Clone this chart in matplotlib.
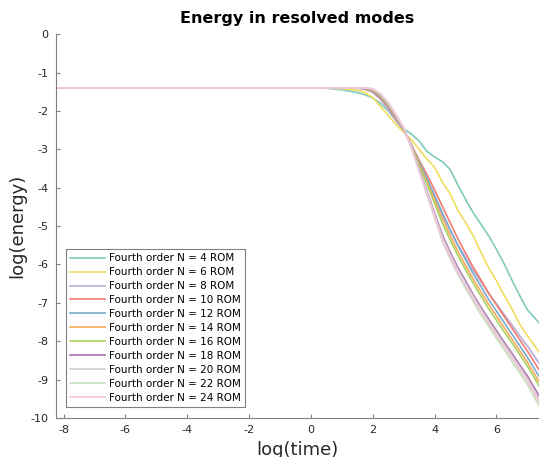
import matplotlib
matplotlib.use("Agg")
import matplotlib.pyplot as plt

plt.rcParams["axes.unicode_minus"] = False

# log(time) sample points shared by all runs
log_time = [-8.26, 0.0, 0.5, 1.0, 1.5, 1.75, 2.0, 2.25, 2.5, 2.75, 3.0, 3.25, 3.5, 3.75,
            4.0, 4.25, 4.5, 4.75, 5.0, 5.25, 5.5, 5.75, 6.0, 6.25, 6.5, 6.75, 7.0, 7.38]

# log(energy) per ROM size
e_n4 = [-1.40, -1.40, -1.41, -1.45, -1.52, -1.58, -1.66, -1.80, -2.00, -2.25, -2.47, -2.60, -2.78, -3.05,
        -3.20, -3.32, -3.52, -3.92, -4.30, -4.65, -4.95, -5.25, -5.60, -5.98, -6.40, -6.80, -7.18, -7.52]
e_n6 = [-1.40, -1.40, -1.40, -1.42, -1.46, -1.52, -1.65, -1.88, -2.12, -2.35, -2.55, -2.75, -3.00, -3.25,
        -3.47, -3.85, -4.15, -4.58, -4.90, -5.25, -5.68, -6.08, -6.42, -6.80, -7.15, -7.55, -7.85, -8.28]
e_n8 = [-1.40, -1.40, -1.40, -1.40, -1.41, -1.44, -1.52, -1.70, -1.95, -2.25, -2.50, -2.90, -3.35, -3.80,
        -4.25, -4.70, -5.10, -5.48, -5.82, -6.15, -6.45, -6.75, -7.02, -7.30, -7.57, -7.85, -8.12, -8.57]
e_n10 = [-1.40, -1.40, -1.40, -1.40, -1.40, -1.43, -1.49, -1.66, -1.90, -2.20, -2.48, -2.88, -3.28, -3.65,
         -4.05, -4.48, -4.90, -5.32, -5.70, -6.07, -6.40, -6.75, -7.05, -7.35, -7.65, -7.95, -8.25, -8.74]
e_n12 = [-1.40, -1.40, -1.40, -1.40, -1.40, -1.42, -1.47, -1.63, -1.87, -2.17, -2.47, -2.89, -3.33, -3.75,
         -4.19, -4.65, -5.08, -5.50, -5.87, -6.24, -6.57, -6.91, -7.21, -7.51, -7.81, -8.11, -8.41, -8.91]
e_n14 = [-1.40, -1.40, -1.40, -1.40, -1.40, -1.41, -1.46, -1.61, -1.85, -2.15, -2.46, -2.91, -3.38, -3.84,
         -4.31, -4.80, -5.23, -5.65, -6.02, -6.38, -6.71, -7.04, -7.34, -7.64, -7.94, -8.24, -8.54, -9.05]
e_n16 = [-1.40, -1.40, -1.40, -1.40, -1.40, -1.41, -1.45, -1.60, -1.83, -2.13, -2.45, -2.92, -3.42, -3.90,
         -4.40, -4.92, -5.35, -5.76, -6.13, -6.49, -6.82, -7.15, -7.45, -7.75, -8.04, -8.34, -8.64, -9.16]
e_n18 = [-1.40, -1.40, -1.40, -1.40, -1.40, -1.40, -1.44, -1.58, -1.81, -2.12, -2.46, -2.94, -3.51, -4.08,
         -4.65, -5.22, -5.67, -6.07, -6.42, -6.78, -7.11, -7.42, -7.72, -8.02, -8.31, -8.61, -8.90, -9.42]
e_n20 = [-1.40, -1.40, -1.40, -1.40, -1.40, -1.40, -1.43, -1.57, -1.80, -2.11, -2.45, -2.94, -3.53, -4.11,
         -4.69, -5.28, -5.73, -6.13, -6.48, -6.83, -7.16, -7.48, -7.78, -8.08, -8.37, -8.67, -8.97, -9.50]
e_n22 = [-1.40, -1.40, -1.40, -1.40, -1.40, -1.40, -1.43, -1.56, -1.79, -2.10, -2.44, -2.95, -3.56, -4.17,
         -4.78, -5.39, -5.85, -6.25, -6.61, -6.96, -7.30, -7.61, -7.92, -8.22, -8.52, -8.82, -9.12, -9.68]
e_n24 = [-1.40, -1.40, -1.40, -1.40, -1.40, -1.40, -1.42, -1.55, -1.78, -2.09, -2.43, -2.95, -3.55, -4.15,
         -4.75, -5.35, -5.80, -6.20, -6.55, -6.90, -7.23, -7.54, -7.84, -8.14, -8.43, -8.73, -9.03, -9.58]

rom_sizes = [4, 6, 8, 10, 12, 14, 16, 18, 20, 22, 24]
energies = [e_n4, e_n6, e_n8, e_n10, e_n12, e_n14, e_n16, e_n18, e_n20, e_n22, e_n24]
colors = ["#7fcbbb", "#f0dd5c", "#b4aed6", "#f27c70", "#78aace", "#f7ab5e",
          "#a9d461", "#ab72b0", "#d0d0d0", "#c1e3ba", "#f5c4dc"]

fig = plt.figure(figsize=(5.39, 4.57), dpi=100)
ax = fig.add_axes([0.103, 0.0853, 0.897, 0.840])

for n, e, c in zip(rom_sizes, energies, colors):
    ax.plot(log_time, e, color=c, lw=1.2, label=f"Fourth order N = {n} ROM")

ax.set_xlim(-8.26, 7.38)
ax.set_ylim(-10, 0)
ax.set_xticks([-8, -6, -4, -2, 0, 2, 4, 6])
ax.set_yticks(range(-10, 1))
ax.tick_params(direction="in", length=3, width=0.8, color="#808080",
               labelsize=8, labelcolor="#262626", pad=5)
for side in ["top", "right"]:
    ax.spines[side].set_visible(False)
for side in ["left", "bottom"]:
    ax.spines[side].set_color("#808080")
    ax.spines[side].set_linewidth(0.8)

ax.set_title("Energy in resolved modes", fontsize=11.5, fontweight="bold", pad=8)
ax.set_xlabel("log(time)", fontsize=13, color="#262626", labelpad=4)
ax.set_ylabel("log(energy)", fontsize=13, color="#262626", labelpad=3)

leg = ax.legend(loc="lower left", bbox_to_anchor=(0.0217, 0.0287), borderaxespad=0,
                fontsize=7.5, handlelength=3.3, handletextpad=0.4, labelspacing=0.38,
                fancybox=False, framealpha=1, edgecolor="#808080", borderpad=0.4)
leg.get_frame().set_linewidth(0.8)

fig.savefig("out.png", dpi=100)
plt.close(fig)
